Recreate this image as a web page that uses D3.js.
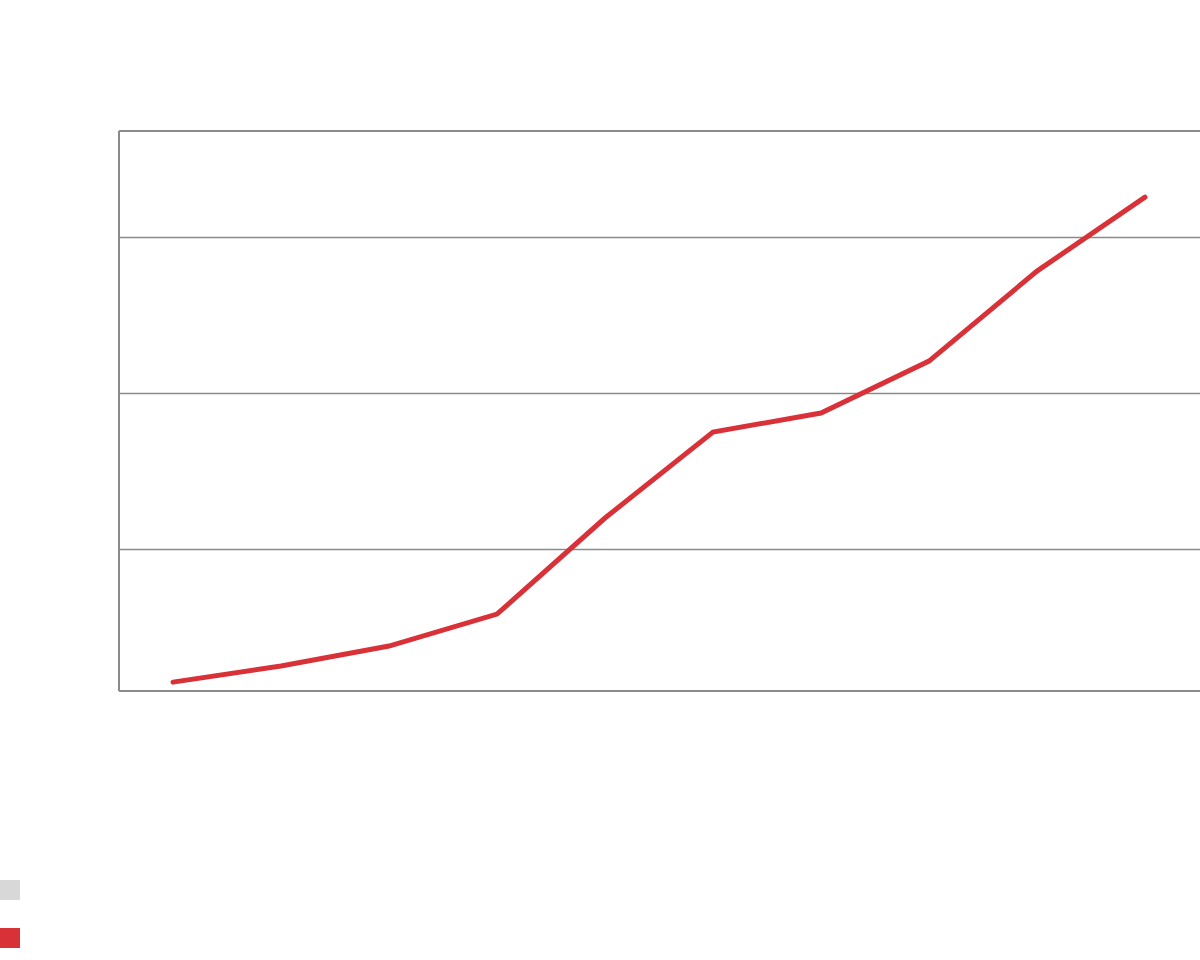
<!DOCTYPE html>
<html>
<head>
<meta charset="utf-8">
<script src="https://cdn.jsdelivr.net/npm/d3@7"></script>
<style>
  html, body { margin: 0; padding: 0; background: #fff; }
  svg { display: block; }
</style>
</head>
<body>
<svg id="chart" width="1200" height="960"></svg>
<script>
// Data (no text labels are visible in it)
const categories = ["1", "2", "3", "4", "5", "6", "7", "8", "9", "10"];
const seriesValues = [1.47, 2.5, 3.78, 5.83, 11.99, 17.5, 18.72, 22.05, 27.82, 32.56];
const yTicks = [10, 20, 30];
const yDomain = [0.9, 36.8];
const legendSeries = ["background", "main"];
const legendColors = ["#d9d8d8", "#d83238"];

const svg = d3.select("#chart");
const margin = { top: 131, right: 1, bottom: 269, left: 119 };
const W = 1200, H = 960;

const x = d3.scaleBand().domain(categories).range([margin.left, W - margin.right]).paddingInner(0).paddingOuter(0);
const y = d3.scaleLinear().domain(yDomain).range([H - margin.bottom, margin.top]);

// gridlines
svg.append("g")
  .attr("transform", `translate(${margin.left},0)`)
  .call(d3.axisLeft(y).tickValues(yTicks).tickSize(-(W - margin.left)).tickFormat(""))
  .call(g => g.select(".domain").remove())
  .call(g => g.selectAll(".tick line").attr("stroke", "#8a8a8a").attr("stroke-width", 1.5));

// frame: left, top, bottom
const frame = svg.append("g").attr("stroke", "#8a8a8a").attr("stroke-width", 2).attr("fill", "none");
frame.append("line").attr("x1", margin.left).attr("x2", margin.left).attr("y1", y(yDomain[1])).attr("y2", y(yDomain[0]));
frame.append("line").attr("x1", margin.left).attr("x2", W).attr("y1", y(yDomain[1])).attr("y2", y(yDomain[1]));
frame.append("line").attr("x1", margin.left).attr("x2", W).attr("y1", y(yDomain[0])).attr("y2", y(yDomain[0]));

// line
const line = d3.line()
  .x((d, i) => x(categories[i]) + x.bandwidth() / 2)
  .y(d => y(d));

svg.append("path")
  .datum(seriesValues)
  .attr("d", line)
  .attr("fill", "none")
  .attr("stroke", legendColors[1])
  .attr("stroke-width", 5)
  .attr("stroke-linecap", "round")
  .attr("stroke-linejoin", "miter");

// legend swatches
const legend = svg.append("g").attr("transform", "translate(0,880)");
legend.selectAll("rect")
  .data(legendSeries)
  .join("rect")
  .attr("x", 0)
  .attr("y", (d, i) => i * 48)
  .attr("width", 20)
  .attr("height", 20)
  .attr("fill", (d, i) => legendColors[i]);
</script>
</body>
</html>
